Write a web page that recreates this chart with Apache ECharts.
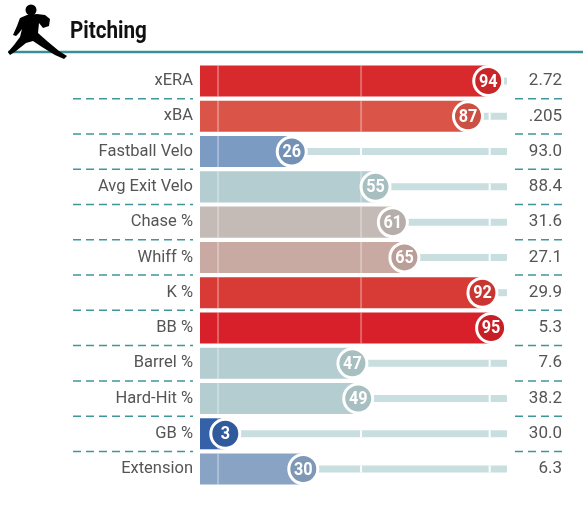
<!DOCTYPE html>
<html>
  <head>
    <meta charset="utf-8" />
    <title>Pitching percentile rankings</title>
    <script src="https://cdn.jsdelivr.net/npm/echarts@6/dist/echarts.min.js"></script>
    <style>
      html, body { margin: 0; padding: 0; background: #fff; }
      #chart { width: 583px; height: 518px; }
    </style>
  </head>
  <body>
    <div id="chart"></div>
    <script type="text/javascript">
      // data
      var metrics = ['xERA', 'xBA', 'Fastball Velo', 'Avg Exit Velo', 'Chase %', 'Whiff %',
                     'K %', 'BB %', 'Barrel %', 'Hard-Hit %', 'GB %', 'Extension'];
      var percentiles = [94, 87, 26, 55, 61, 65, 92, 95, 47, 49, 3, 30];
      var statValues = ['2.72', '.205', '93.0', '88.4', '31.6', '27.1', '29.9', '5.3', '7.6', '38.2', '30.0', '6.3'];
      var guideLines = [0.5, 50, 94.5];

      var xMin = -5.75, xMax = 100.5;

      // percentile -> colour (blue .. grey .. red)
      var colorStops = [
        [0, '#3161a8'], [3, '#3461a8'], [26, '#7c9bc3'], [30, '#88a3c4'],
        [47, '#b4cdd0'], [55, '#b4cdd0'], [61, '#c4bbb7'], [65, '#c9aaa2'],
        [87, '#da5548'], [92, '#d83a35'], [94, '#d8292d'], [95, '#d72029'], [100, '#d41f26']
      ];
      function hexToRgb(h) {
        return [parseInt(h.substr(1, 2), 16), parseInt(h.substr(3, 2), 16), parseInt(h.substr(5, 2), 16)];
      }
      function pctColor(p, dark) {
        var i = 0;
        while (i < colorStops.length - 2 && p > colorStops[i + 1][0]) i++;
        var a = colorStops[i], b = colorStops[i + 1];
        var t = (p - a[0]) / (b[0] - a[0] || 1);
        t = Math.max(0, Math.min(1, t));
        var ca = hexToRgb(a[1]), cb = hexToRgb(b[1]);
        var k = dark ? 0.93 : 1;
        var c = ca.map(function (v, j) { return Math.round((v + (cb[j] - v) * t) * k); });
        return 'rgb(' + c.join(',') + ')';
      }

      var seriesData = percentiles.map(function (p, i) { return [p, i]; });

      var chart = echarts.init(document.getElementById('chart'), null, { renderer: 'canvas' });

      function renderRow(params, api) {
        var v = api.value(0), idx = api.value(1);
        var band = api.size([0, 1])[1];
        var c = api.coord([v, idx]);
        var s = api.coord([xMin, idx]);
        var e = api.coord([xMax, idx]);
        var barH = band * 0.88;
        var trackH = 7;
        var kids = [];

        // track
        kids.push({ type: 'rect', shape: { x: c[0], y: c[1] - trackH / 2, width: e[0] - c[0], height: trackH },
                    style: { fill: '#c9dedf' } });
        // bar
        kids.push({ type: 'rect', shape: { x: s[0], y: c[1] - barH / 2, width: c[0] - s[0], height: barH },
                    style: { fill: pctColor(v, false) } });
        // guide lines
        guideLines.forEach(function (g) {
          var gx = api.coord([g, idx])[0];
          if (gx < c[0]) {
            kids.push({ type: 'rect', shape: { x: gx - 1, y: c[1] - barH / 2, width: 2, height: barH },
                        style: { fill: 'rgba(255,255,255,0.3)' } });
          } else {
            kids.push({ type: 'rect', shape: { x: gx - 1, y: c[1] - trackH / 2, width: 2, height: trackH },
                        style: { fill: '#ffffff' } });
          }
        });
        // dashed separators
        if (idx < metrics.length - 1) {
          var yb = c[1] + band / 2;
          kids.push({ type: 'line', shape: { x1: 73, y1: yb, x2: 193, y2: yb },
                      style: { stroke: '#3f979c', lineWidth: 1.5, lineDash: [8, 5] } });
          kids.push({ type: 'line', shape: { x1: 515, y1: yb, x2: 562, y2: yb },
                      style: { stroke: '#3f979c', lineWidth: 1.5, lineDash: [8, 5] } });
        }
        // circle
        kids.push({ type: 'circle', shape: { cx: c[0], cy: c[1], r: 14.5 },
                    style: { fill: pctColor(v, true), stroke: '#fff', lineWidth: 3 } });
        kids.push({ type: 'text', x: c[0], y: c[1] + 1, scaleX: 0.9, originX: 0, originY: 0,
                    style: { text: String(v), fill: '#fff', font: 'bold 18px Roboto',
                             align: 'center', verticalAlign: 'middle' } });
        return { type: 'group', children: kids };
      }

      chart.setOption({
        animation: false,
        backgroundColor: '#fff',
        graphic: [
          { type: 'text', x: 70, y: 44, scaleX: 0.86,
            style: { text: 'Pitching', font: 'bold 24px Roboto', fill: '#111',
                     textAlign: 'left', textVerticalAlign: 'bottom' } },
          { type: 'line', shape: { x1: 8, y1: 52, x2: 583, y2: 52 },
            style: { stroke: '#3b8f94', lineWidth: 2.5 } },
          // pitcher silhouette
          { type: 'polygon', z: 10,
            shape: { points: [[27,15],[37,14],[45,15],[50,19],[49,26],[43,28],[39,23],[38,33],[47,41],
                              [59,51],[67,56],[64,59],[55,55],[42,47],[33,41],[26,43],[16,51],[10,55],
                              [8,52],[14,45],[20,37],[22,29],[19,33],[16,36],[13,35],[17,26],[20,18]] },
            style: { fill: '#000' } },
          { type: 'circle', z: 10, shape: { cx: 31, cy: 10, r: 5.5 }, style: { fill: '#000' } }
        ],
        grid: { left: 200, right: 76, top: 63.4, height: 423.3 },
        xAxis: {
          type: 'value', min: xMin, max: xMax,
          show: false
        },
        yAxis: [
          {
            type: 'category', data: metrics, inverse: true,
            axisLine: { show: false }, axisTick: { show: false }, splitLine: { show: false },
            axisLabel: { margin: 7, fontSize: 16.5, fontFamily: 'Roboto', color: '#555' }
          },
          {
            type: 'category', data: statValues, inverse: true, position: 'right',
            axisLine: { show: false }, axisTick: { show: false }, splitLine: { show: false },
            axisLabel: { margin: 55, align: 'right', fontSize: 17, fontFamily: 'Roboto', color: '#555' }
          }
        ],
        series: [{
          type: 'custom',
          renderItem: renderRow,
          clip: false,
          encode: { x: 0, y: 1 },
          data: seriesData
        }]
      });
    </script>
  </body>
</html>
